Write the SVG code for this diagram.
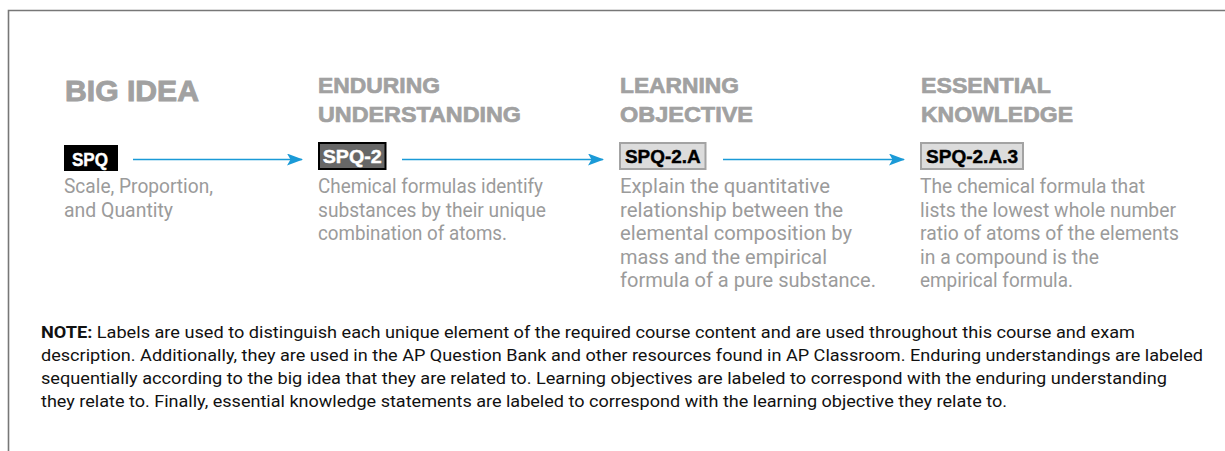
<svg xmlns="http://www.w3.org/2000/svg" width="1225" height="451" viewBox="0 0 1225 451">
  <style>
    .head { font-family: "Liberation Sans", Arial, sans-serif; font-weight: bold; fill: #a1a1a1; stroke: #a1a1a1; stroke-width: 0.7px; font-size: 22.7px; }
    .big { font-size: 28.8px; stroke-width: 0.9px; }
    .desc { font-family: Roboto, "Liberation Sans", sans-serif; fill: #9b9b9b; font-size: 19.5px; }
    .badge { font-family: "Liberation Sans", Arial, sans-serif; font-weight: bold; font-size: 18px; stroke-width: 0.4px; }
    .note { font-family: Roboto, "Liberation Sans", sans-serif; fill: #111; font-size: 16px; }
    .conn { stroke: #1a9ad7; stroke-width: 1.5; fill: none; }
  </style>
  <defs>
    <marker id="arr" markerWidth="16" markerHeight="12" refX="15" refY="6" orient="auto" markerUnits="userSpaceOnUse">
      <path d="M0,0 L16,6 L0,12 L3.5,6 Z" fill="#1a9ad7"/>
    </marker>
  </defs>
  <rect width="1225" height="451" fill="#fff"/>
  <path d="M8.5,451 V10.5 H1225" fill="none" stroke="#777" stroke-width="1.6"/>

  <g id="big-idea">
    <text class="head big" x="65" y="100.5" textLength="134" lengthAdjust="spacingAndGlyphs">BIG IDEA</text>
    <rect x="64" y="145" width="54" height="26" fill="#000"/>
    <text class="badge" x="72" y="166" fill="#fff" stroke="#fff" font-size="16" textLength="36" lengthAdjust="spacingAndGlyphs">SPQ</text>
    <text class="desc" x="64" y="193" textLength="149" lengthAdjust="spacingAndGlyphs">Scale, Proportion,</text>
    <text class="desc" x="64" y="216.5" textLength="109" lengthAdjust="spacingAndGlyphs">and Quantity</text>
  </g>

  <g id="enduring-understanding">
    <text class="head" x="318" y="93.3" textLength="122" lengthAdjust="spacingAndGlyphs">ENDURING</text>
    <text class="head" x="318" y="121.7" textLength="203" lengthAdjust="spacingAndGlyphs">UNDERSTANDING</text>
    <rect x="319" y="143" width="66.5" height="26" fill="#676767" stroke="#000" stroke-width="2"/>
    <text class="badge" x="322.7" y="163.3" fill="#fff" stroke="#fff" textLength="59" lengthAdjust="spacingAndGlyphs">SPQ-2</text>
    <text class="desc" x="318" y="193" textLength="225" lengthAdjust="spacingAndGlyphs">Chemical formulas identify</text>
    <text class="desc" x="318" y="216.5" textLength="228" lengthAdjust="spacingAndGlyphs">substances by their unique</text>
    <text class="desc" x="318" y="240" textLength="189" lengthAdjust="spacingAndGlyphs">combination of atoms.</text>
  </g>

  <g id="learning-objective">
    <text class="head" x="620" y="93.3" textLength="119" lengthAdjust="spacingAndGlyphs">LEARNING</text>
    <text class="head" x="620" y="121.7" textLength="133" lengthAdjust="spacingAndGlyphs">OBJECTIVE</text>
    <rect x="620" y="143" width="85.5" height="26" fill="#dcdcdc" stroke="#a3a3a3" stroke-width="2"/>
    <text class="badge" x="625" y="163.3" fill="#000" stroke="#000" textLength="75.7" lengthAdjust="spacingAndGlyphs">SPQ-2.A</text>
    <text class="desc" x="620" y="193" textLength="210" lengthAdjust="spacingAndGlyphs">Explain the quantitative</text>
    <text class="desc" x="620" y="216.5" textLength="223" lengthAdjust="spacingAndGlyphs">relationship between the</text>
    <text class="desc" x="620" y="240" textLength="232" lengthAdjust="spacingAndGlyphs">elemental composition by</text>
    <text class="desc" x="620" y="263.5" textLength="207" lengthAdjust="spacingAndGlyphs">mass and the empirical</text>
    <text class="desc" x="620" y="287" textLength="256" lengthAdjust="spacingAndGlyphs">formula of a pure substance.</text>
  </g>

  <g id="essential-knowledge">
    <text class="head" x="921" y="93.3" textLength="130" lengthAdjust="spacingAndGlyphs">ESSENTIAL</text>
    <text class="head" x="921" y="121.7" textLength="152" lengthAdjust="spacingAndGlyphs">KNOWLEDGE</text>
    <rect x="921" y="143" width="102" height="26" fill="#dcdcdc" stroke="#a3a3a3" stroke-width="2"/>
    <text class="badge" x="926" y="163.3" fill="#000" stroke="#000" textLength="92" lengthAdjust="spacingAndGlyphs">SPQ-2.A.3</text>
    <text class="desc" x="920" y="193" textLength="225" lengthAdjust="spacingAndGlyphs">The chemical formula that</text>
    <text class="desc" x="920" y="216.5" textLength="256" lengthAdjust="spacingAndGlyphs">lists the lowest whole number</text>
    <text class="desc" x="920" y="240" textLength="259" lengthAdjust="spacingAndGlyphs">ratio of atoms of the elements</text>
    <text class="desc" x="920" y="263.5" textLength="179" lengthAdjust="spacingAndGlyphs">in a compound is the</text>
    <text class="desc" x="920" y="287" textLength="153" lengthAdjust="spacingAndGlyphs">empirical formula.</text>
  </g>

  <g id="connectors">
    <line class="conn" x1="133" y1="159.5" x2="302" y2="159.5" marker-end="url(#arr)"/>
    <line class="conn" x1="402" y1="159.5" x2="603" y2="159.5" marker-end="url(#arr)"/>
    <line class="conn" x1="723" y1="159.5" x2="904" y2="159.5" marker-end="url(#arr)"/>
  </g>

  <g id="note">
    <text class="note" x="41" y="338" textLength="1094" lengthAdjust="spacingAndGlyphs"><tspan font-weight="bold">NOTE:</tspan> Labels are used to distinguish each unique element of the required course content and are used throughout this course and exam</text>
    <text class="note" x="41" y="361" textLength="1162" lengthAdjust="spacingAndGlyphs">description. Additionally, they are used in the AP Question Bank and other resources found in AP Classroom. Enduring understandings are labeled</text>
    <text class="note" x="41" y="384" textLength="1126" lengthAdjust="spacingAndGlyphs">sequentially according to the big idea that they are related to. Learning objectives are labeled to correspond with the enduring understanding</text>
    <text class="note" x="41" y="407" textLength="966" lengthAdjust="spacingAndGlyphs">they relate to. Finally, essential knowledge statements are labeled to correspond with the learning objective they relate to.</text>
  </g>
</svg>
